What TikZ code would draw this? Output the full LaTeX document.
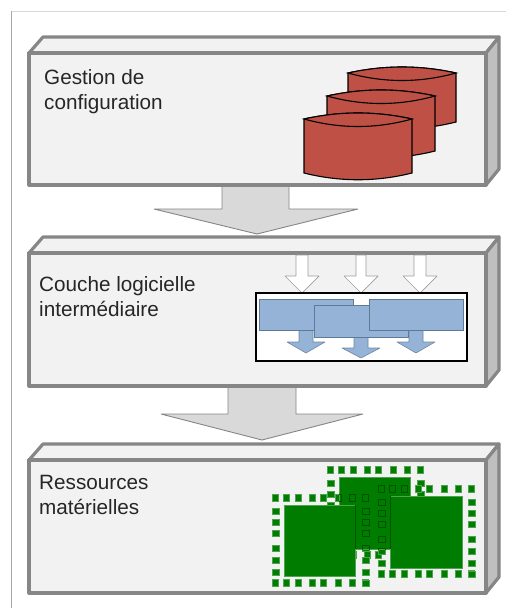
\documentclass[tikz,border=0pt]{standalone}
\usepackage{fontspec}
\setmainfont{Liberation Sans}
\definecolor{boxline}{HTML}{868686}
\definecolor{boxfill}{HTML}{F2F2F2}
\definecolor{boxside}{HTML}{BFBFBF}
\definecolor{bigarrow}{HTML}{D9D9D9}
\definecolor{cyl}{HTML}{BE5046}
\definecolor{blueb}{HTML}{95B3D7}
\definecolor{blueline}{HTML}{5F7A99}
\definecolor{chip}{HTML}{007D00}
\definecolor{chipdark}{HTML}{005200}
\tikzset{
  boxface/.style={draw=boxline,line width=3.2pt,line join=round,fill=boxfill},
  boxsidef/.style={draw=boxline,line width=3.2pt,line join=round,fill=boxside},
  boxlabel/.style={anchor=north west,inner sep=0pt,align=left,font=\fontsize{20.7}{25.5}\selectfont,text=black!85},
  bigarr/.style={draw=boxline,line width=0.9pt,fill=bigarrow,line join=bevel},
  whitearr/.style={draw=boxline!80,line width=0.7pt,fill=white,line join=bevel},
  bluearr/.style={draw=blueb!75!black,line width=0.6pt,fill=blueb,line join=bevel},
  bluerect/.style={draw=blueline,line width=0.8pt,fill=blueb},
  cylf/.style={draw=black,line width=1.1pt,fill=cyl,line join=miter},
  chipbody/.style={draw=chip!70!white,line width=0.4pt,fill=chip},
  padfill/.style={draw=chip!70!white,line width=0.5pt,fill=chip},
  padline/.style={draw=chipdark,line width=0.7pt},
}
\newcommand{\flatbox}[2]{%
  \path[boxface] (29,#1) -- (43,#1-16) -- (499,#1-16) -- (486,#1) -- cycle;
  \path[boxsidef] (486,#1) -- (499,#1-16) -- (499,#2-16) -- (486,#2) -- cycle;
  \path[boxface] (29,#1) rectangle (486,#2);
}
% shaft left, shaft right, shaft top, shaft end, head left, head right, tip x, tip y, style
\newcommand{\blockarrow}[9]{%
  \path[#9] (#1,#3) -- (#1,#4) -- (#5,#4) -- (#7,#8) -- (#6,#4) -- (#2,#4) -- (#2,#3) -- cycle;
}
\newcommand{\drum}[4]{% left, right, top edge, bottom edge
  \path[cylf] (#1,#3) .. controls (#1+36,#3-8) and (#2-36,#3-8) .. (#2,#3)
    -- (#2,#4) .. controls (#2-36,#4+9) and (#1+36,#4+9) .. (#1,#4) -- cycle;
  \path[cylf] (#1,#3) .. controls (#1+36,#3+10) and (#2-36,#3+10) .. (#2,#3)
    .. controls (#2-36,#3-8) and (#1+36,#3-8) .. (#1,#3) -- cycle;
}
\newcommand{\pads}[3]{% chip left, chip top, style
  \begin{scope}[shift={(#1,#2)}]
    \foreach \u in {-8.7,2.3,14,28.3,39.7,54,68.7,81}{
      \path[#3] (\u-3,-10.5) rectangle (\u+3,-3.5);
      \path[#3] (\u-3,74.5) rectangle (\u+3,81.5);
    }
    \foreach \v in {6,17,28,43,55,67}{
      \path[#3] (-11.5,\v-3) rectangle (-4.5,\v+3);
      \path[#3] (78.5,\v-3) rectangle (85.5,\v+3);
    }
    \path[#3] (78.5,75) rectangle (85.5,81);
  \end{scope}
}
\begin{document}
\begin{tikzpicture}[x=1pt,y=-1pt]
\useasboundingbox (0,0) rectangle (506,608);
\fill[white] (0,0) rectangle (506,608);
\coordinate (frameTL) at (11,11);
\coordinate (frameTR) at (506,11);
\coordinate (frameBL) at (11,608);
\draw[black!15,line width=1pt] (frameTL) -- (frameTR);
\draw[black!35,line width=1pt] (frameTL) -- (frameBL);

% big arrows
\blockarrow{222}{289}{186}{209}{154}{358}{257}{234}{bigarr}
\blockarrow{228}{296}{387}{414}{161}{363}{262}{440}{bigarr}

% three layers
\flatbox{53}{185}
\flatbox{253}{386}
\flatbox{460}{593}

\node[boxlabel] (cfg) at (44,69) {Gestion de\\configuration};
\node[boxlabel] (mid) at (39,276) {Couche logicielle\\intermédiaire};
\node[boxlabel] (res) at (39,475) {Ressources\\matérielles};

% configuration drums
\drum{348}{456}{73}{122}
\drum{327}{435}{96}{151}
\drum{304}{412}{119}{173}

% middleware
\blockarrow{296}{308}{255}{276}{285}{319}{302}{293}{whitearr}
\blockarrow{356}{366}{255}{276}{344}{378}{361}{293}{whitearr}
\blockarrow{414}{426}{255}{276}{403}{437}{420}{293}{whitearr}
\draw[black,line width=1.5pt,fill=white] (256,293) rectangle (467,361);
\blockarrow{299}{313}{330}{342}{287}{325}{306}{353}{bluearr}
\blockarrow{354}{368}{337}{348}{342}{380}{361}{358}{bluearr}
\blockarrow{409}{423}{330}{342}{397}{435}{416}{353}{bluearr}
\path[bluerect] (259,299) rectangle (353,330);
\path[bluerect] (314,305) rectangle (408,337);
\path[bluerect] (369,299) rectangle (463,330);

% hardware chips
\pads{339}{477}{padfill}
\pads{284}{505}{padfill}
\pads{390}{496}{padfill}
\path[chipbody] (339,477) rectangle (410,549);
\path[chipbody] (284,505) rectangle (355,576);
\path[chipbody] (390,496) rectangle (462,568);
\begin{scope}
  \clip (339,477) rectangle (410,549);
  \pads{284}{505}{padline}
  \pads{390}{496}{padline}
  \draw[padline] (355,505) -- (355,549);
  \draw[padline] (390,496) -- (390,549);
\end{scope}
\end{tikzpicture}
\end{document}
